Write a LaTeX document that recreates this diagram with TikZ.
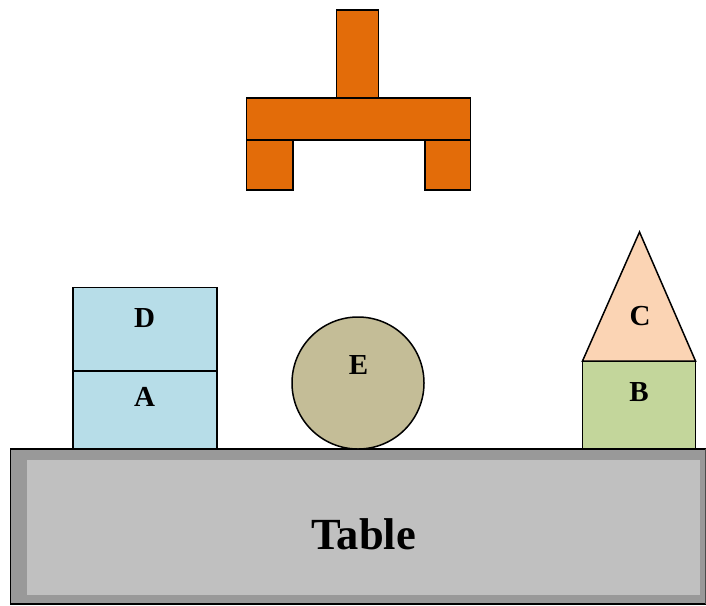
\documentclass[tikz,border=0pt]{standalone}
\usepackage{fontspec}
\setmainfont{Liberation Serif}
\definecolor{grip}{HTML}{E36C09}
\definecolor{blueblk}{HTML}{B7DDE8}
\definecolor{ballc}{HTML}{C4BD97}
\definecolor{conec}{HTML}{FBD4B4}
\definecolor{greenblk}{HTML}{C3D69B}
\definecolor{tabout}{HTML}{999999}
\definecolor{tabin}{HTML}{C0C0C0}
\tikzset{
  shapeline/.style={draw=black, line width=1.5pt, line join=miter},
  lbl/.style={font=\bfseries\fontsize{29}{32}\selectfont, inner sep=0pt},
}
\begin{document}
\begin{tikzpicture}[x=1pt,y=-1pt]
\useasboundingbox (0,0) rectangle (706,605);
% table
\fill[tabout] (10,449) rectangle (705.5,604);
\draw[black, line width=1.5pt] (705.5,449) -- (10.5,449) -- (10.5,604) -- (705.5,604);
\draw[black!70, line width=1pt] (705.5,449) -- (705.5,604);
\fill[tabin] (27,460) rectangle (700,595);
\node[font=\bfseries\fontsize{44.5}{48}\selectfont, inner sep=0pt] (tablelbl) at (363.5,534) {Table};
% gripper
\draw[shapeline, fill=grip] (336.7,10) rectangle (378.7,98);
\draw[shapeline, fill=grip] (246.3,98) rectangle (470.3,140);
\draw[shapeline, fill=grip] (246.3,140) rectangle (293,190);
\draw[shapeline, fill=grip] (425,140) rectangle (470.3,190);
% blocks A and D
\draw[shapeline, fill=blueblk] (73,287.5) rectangle (217,371);
\draw[shapeline, fill=blueblk] (73,371) rectangle (217,449);
\node[lbl] (D) at (144.5,318) {D};
\node[lbl] (A) at (144.5,397) {A};
% ball E
\draw[shapeline, fill=ballc] (358,383) circle (66);
\node[lbl] (E) at (358.5,365) {E};
% blocks B and C
\draw[shapeline, fill=greenblk] (582.5,361) rectangle (695.5,449);
\draw[shapeline, fill=conec] (582.5,361) -- (639.5,232) -- (695.5,361) -- cycle;
\node[lbl] (C) at (640,316) {C};
\node[lbl] (B) at (639,392) {B};
\end{tikzpicture}
\end{document}
